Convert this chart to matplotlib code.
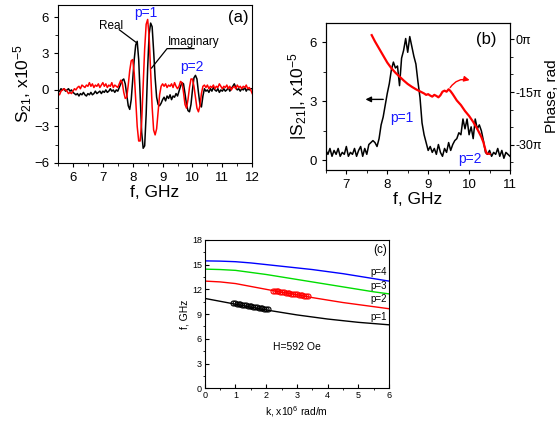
import numpy as np
import matplotlib
matplotlib.use('Agg')
import matplotlib.pyplot as plt
from matplotlib.ticker import MultipleLocator

plt.rcParams['font.family'] = ['Liberation Sans', 'DejaVu Sans']
plt.rcParams['mathtext.fontset'] = 'custom'
plt.rcParams['mathtext.rm'] = 'Liberation Sans'
plt.rcParams['mathtext.default'] = 'regular'

# ---- panel (a): S21 real / imaginary, x10^-5
f_a = np.round(np.arange(5.5, 12.001, 0.05), 2)
s_real = [-0.2, -0.1, 0.1, 0.0, 0.1, -0.1, 0.0, 0.1, -0.1, 0.0,
          -0.2, -0.3, -0.4, -0.3, -0.5, -0.3, -0.4, -0.2, -0.4, -0.5,
          -0.3, -0.4, -0.2, -0.4, -0.3, -0.1, -0.3, -0.2, -0.1, -0.3,
          -0.1, -0.2, 0.0, -0.2, -0.1, 0.1, -0.1, 0.0, -0.2, 0.0,
          -0.1, 0.2, 0.5, 0.8, 0.9, 0.5, -0.4, -1.3, -1.6, -0.8,
          0.8, 2.5, 3.7, 4.0, 2.5, -0.5, -3.5, -4.8, -4.6, -2.0,
          1.8, 4.6, 5.5, 5.2, 3.2, 1.0, -0.6, -1.2, -1.3, -1.1,
          -0.8, -0.6, -0.9, -0.5, -0.7, -0.4, -0.8, -0.5, -0.6, -0.3,
          -0.5, -0.1, 0.3, 0.6, 0.5, -0.3, -1.2, -1.7, -1.8, -1.2,
          0.0, 1.0, 1.2, 0.9, -0.2, -1.2, -1.4, -0.5, 0.1, -0.1,
          0.0, -0.2, 0.1, -0.1, 0.2, 0.0, -0.1, 0.1, -0.2, 0.0,
          -0.1, 0.1, -0.1, 0.0, 0.2, -0.1, 0.1, 0.3, 0.5, 0.2,
          0.0, 0.1, -0.1, 0.1, 0.0, 0.2, -0.1, 0.1, 0.0, 0.1,
          0.1]
s_imag = [-0.3, -0.4, -0.1, 0.0, 0.1, 0.0, -0.1, -0.3, -0.2, -0.3,
          -0.1, 0.1, 0.0, 0.2, 0.3, 0.1, 0.4, 0.3, 0.2, 0.4,
          0.3, 0.6, 0.3, 0.5, 0.2, 0.4, 0.3, 0.5, 0.2, 0.4,
          0.6, 0.3, 0.5, 0.2, 0.4, 0.3, 0.6, 0.2, 0.4, 0.3,
          0.2, 0.5, 0.8, 0.6, -0.2, -0.7, -0.6, 0.4, 1.6, 2.4,
          2.5, 1.4, -0.8, -3.0, -4.2, -4.2, -2.6, 0.3, 3.4, 5.4,
          5.8, 4.4, 1.5, -1.4, -3.3, -3.7, -3.2, -1.8, -0.4, 0.3,
          0.5, 0.3, 0.5, 0.2, 0.4, 0.3, 0.5, 0.2, 0.6, 0.3,
          0.1, 0.3, 0.7, 0.6, -0.2, -1.2, -1.5, -0.8, 0.2, 0.9,
          0.9, 0.3, -0.6, -1.5, -1.8, -1.3, -0.3, 0.3, 0.4, 0.2,
          0.4, 0.1, 0.3, 0.2, 0.4, 0.1, 0.3, 0.2, 0.5, 0.3,
          0.1, 0.3, 0.2, 0.4, 0.1, 0.3, 0.0, 0.2, 0.3, 0.1,
          0.4, 0.2, 0.3, 0.1, 0.3, 0.2, 0.4, 0.1, 0.2, 0.0,
          -0.3]

# ---- panel (b): |S21| and phase
f_b = np.round(np.arange(6.5, 11.001, 0.05), 2)
s_abs = [0.5, 0.3, 0.6, 0.2, 0.5, 0.3, 0.6, 0.2, 0.4, 0.3,
         0.7, 0.2, 0.4, 0.3, 0.6, 0.2, 0.5, 0.7, 0.2, 0.6,
         0.3, 0.8, 0.9, 1.0, 0.9, 0.7, 1.1, 1.8, 2.2, 2.8,
         3.4, 3.9, 4.6, 5.0, 4.7, 4.8, 3.8, 5.2, 5.6, 6.2,
         5.5, 6.3, 5.8, 5.3, 4.9, 4.0, 3.2, 1.9, 1.3, 0.9,
         0.5, 0.7, 0.4, 0.6, 0.3, 0.8, 0.4, 0.2, 0.6, 0.4,
         0.9, 0.5, 0.8, 1.0, 1.1, 1.4, 1.3, 2.1, 1.6, 2.1,
         1.3, 1.7, 1.1, 2.1, 1.6, 1.8, 1.5, 1.0, 0.4, 0.3,
         0.5, 0.2, 0.4, 0.3, 0.6, 0.2, 0.5, 0.1, 0.4, 0.3,
         0.2]
f_ph = [7.62, 7.70, 7.80, 7.90, 8.00, 8.10, 8.20, 8.30, 8.40, 8.50,
        8.60, 8.70, 8.80, 8.90, 8.95, 9.00, 9.05, 9.10, 9.15, 9.20,
        9.25, 9.30, 9.35, 9.40, 9.45, 9.50, 9.55, 9.60, 9.70, 9.80,
        9.90, 10.00, 10.10, 10.20, 10.30, 10.35, 10.40, 10.43, 10.50]
phase = [1.2, -0.6, -2.6, -4.6, -6.6, -8.2, -9.5, -10.6, -11.7, -12.7,
         -13.5, -14.2, -14.8, -15.4, -15.8, -15.6, -16.0, -16.3, -15.8, -16.1,
         -16.5, -15.9, -14.9, -14.6, -14.9, -14.2, -14.8, -15.6, -17.4, -18.7,
         -20.4, -21.8, -23.5, -25.5, -27.8, -29.3, -31.5, -32.5, -32.6]

# ---- panel (c): dispersion, H=592 Oe
k_line = [0, 0.5, 1, 1.5, 2, 2.5, 3, 3.5, 4, 4.5, 5, 5.5, 6]
f_p1 = [10.9, 10.55, 10.2, 9.85, 9.5, 9.2, 8.9, 8.65, 8.4, 8.2, 8.0, 7.85, 7.7]
f_p2 = [13.0, 12.9, 12.7, 12.35, 12.0, 11.65, 11.35, 11.0, 10.7, 10.4, 10.15, 9.9, 9.65]
f_p3 = [14.45, 14.4, 14.3, 14.05, 13.8, 13.5, 13.2, 12.9, 12.6, 12.3, 12.0, 11.7, 11.45]
f_p4 = [15.45, 15.42, 15.35, 15.2, 15.0, 14.8, 14.6, 14.4, 14.15, 13.9, 13.6, 13.3, 13.0]
k_exp1 = [0.92, 0.98, 1.04, 1.10, 1.16, 1.22, 1.28, 1.34, 1.40, 1.46,
          1.52, 1.58, 1.64, 1.70, 1.76, 1.82, 1.88, 1.94, 2.00, 2.06]
f_exp1 = [10.35, 10.3, 10.27, 10.22, 10.18, 10.13, 10.1, 10.05, 10.02, 9.98,
          9.94, 9.9, 9.86, 9.82, 9.78, 9.74, 9.7, 9.66, 9.62, 9.58]
k_exp2 = [2.22, 2.28, 2.34, 2.40, 2.46, 2.52, 2.58, 2.64, 2.70, 2.76,
          2.82, 2.88, 2.94, 3.00, 3.06, 3.12, 3.18, 3.24, 3.30, 3.36]
f_exp2 = [11.85, 11.82, 11.78, 11.74, 11.7, 11.66, 11.62, 11.58, 11.55, 11.52,
          11.49, 11.46, 11.43, 11.4, 11.36, 11.32, 11.28, 11.24, 11.2, 11.16]

fig = plt.figure(figsize=(5.58, 4.23), dpi=100)

# ---------------- (a)
ax = fig.add_axes([0.104, 0.615, 0.348, 0.3735])
ax.plot(f_a, s_real, color='black', lw=1.1)
ax.plot(f_a, s_imag, color='red', lw=1.1)
ax.set_xlim(5.5, 12)
ax.set_ylim(-6, 7)
ax.xaxis.set_major_locator(MultipleLocator(1))
ax.xaxis.set_minor_locator(MultipleLocator(0.5))
ax.yaxis.set_major_locator(MultipleLocator(3))
ax.yaxis.set_minor_locator(MultipleLocator(1.5))
ax.tick_params(labelsize=9.5, length=3, direction='out')
ax.tick_params(which='minor', length=2)
ax.set_xlabel('f, GHz', fontsize=12.5, labelpad=1)
ax.set_ylabel('S$_{21}$, x10$^{-5}$', fontsize=12.5, labelpad=0)
ax.text(7.27, 5.25, 'Real', fontsize=8.5, ha='center', va='center')
ax.plot([7.55, 8.12], [4.95, 3.9], color='black', lw=0.9)
ax.text(10.05, 3.95, 'Imaginary', fontsize=8.5, ha='center', va='center')
ax.plot([10.05, 9.15, 8.63], [3.4, 3.4, 1.8], color='black', lw=0.9)
ax.text(8.44, 6.35, 'p=1', color='#1a1aff', fontsize=10, ha='center', va='center')
ax.text(9.99, 1.85, 'p=2', color='#1a1aff', fontsize=10, ha='center', va='center')
ax.text(11.55, 6.0, '(a)', fontsize=12, ha='center', va='center')

# ---------------- (b)
bx = fig.add_axes([0.584, 0.598, 0.330, 0.348])
bx.plot(f_b, s_abs, color='black', lw=1.1)
bx.set_xlim(6.5, 11)
bx.set_ylim(-0.5, 7)
bx.xaxis.set_major_locator(MultipleLocator(1))
bx.xaxis.set_minor_locator(MultipleLocator(0.5))
bx.yaxis.set_major_locator(MultipleLocator(3))
bx.yaxis.set_minor_locator(MultipleLocator(1.5))
bx.tick_params(labelsize=9.5, length=3, direction='out')
bx.tick_params(which='minor', length=2)
bx.set_xlabel('f, GHz', fontsize=12.5, labelpad=1)
bx.set_ylabel('|S$_{21}$|, x10$^{-5}$', fontsize=12.5, labelpad=0)
bx.annotate('', xy=(7.4, 3.1), xytext=(7.97, 3.1),
            arrowprops=dict(arrowstyle='-|>', color='black', lw=1, mutation_scale=8))
bx.text(8.36, 2.15, 'p=1', color='#1a1aff', fontsize=10, ha='center', va='center')
bx.text(10.02, 0.05, 'p=2', color='#1a1aff', fontsize=10, ha='center', va='center')
bx.text(10.43, 6.15, '(b)', fontsize=12, ha='center', va='center')

px = bx.twinx()
px.plot(f_ph, phase, color='red', lw=1.6)
px.set_ylim(-37.2, 4.7)
px.set_yticks([0, -15, -30])
px.set_yticklabels(['0π', '-15π', '-30π'])
px.yaxis.set_minor_locator(MultipleLocator(5))
px.tick_params(labelsize=9, length=3, direction='out', pad=1)
px.tick_params(which='minor', length=2)
px.set_ylabel('Phase, rad', fontsize=11)
px.yaxis.set_label_coords(1.19, 0.5)
px.annotate('', xy=(10.08, -11.8), xytext=(9.5, -14.4),
            arrowprops=dict(arrowstyle='-|>', color='red', lw=1, mutation_scale=8,
                            connectionstyle='arc3,rad=-0.4'))

# ---------------- (c)
cx = fig.add_axes([0.367, 0.082, 0.330, 0.351])
cx.plot(k_line, f_p1, color='black', lw=1)
cx.plot(k_line, f_p2, color='red', lw=1)
cx.plot(k_line, f_p3, color='#00dd00', lw=1)
cx.plot(k_line, f_p4, color='blue', lw=1)
cx.plot(k_exp1, f_exp1, 'o', mfc='none', mec='black', ms=3.6, mew=0.8)
cx.plot(k_exp2, f_exp2, 'o', mfc='none', mec='red', ms=3.6, mew=0.8)
cx.set_xlim(0, 6)
cx.set_ylim(0, 18)
cx.xaxis.set_major_locator(MultipleLocator(1))
cx.xaxis.set_minor_locator(MultipleLocator(0.5))
cx.yaxis.set_major_locator(MultipleLocator(3))
cx.yaxis.set_minor_locator(MultipleLocator(1.5))
cx.tick_params(labelsize=6.5, length=3, direction='in', pad=2)
cx.tick_params(which='minor', length=1.5)
cx.set_xlabel('k, x10$^{6}$ rad/m', fontsize=7.5, labelpad=3)
cx.set_ylabel('f, GHz', fontsize=7.5, labelpad=2)
for lab, yy in [('p=4', 14.15), ('p=3', 12.4), ('p=2', 10.8), ('p=1', 8.7)]:
    cx.text(5.95, yy, lab, fontsize=7, ha='right', va='center')
cx.text(3.0, 5.05, 'H=592 Oe', fontsize=7.5, ha='center', va='center')
cx.text(5.7, 16.8, '(c)', fontsize=8.5, ha='center', va='center')

fig.savefig('out.png', dpi=100)
